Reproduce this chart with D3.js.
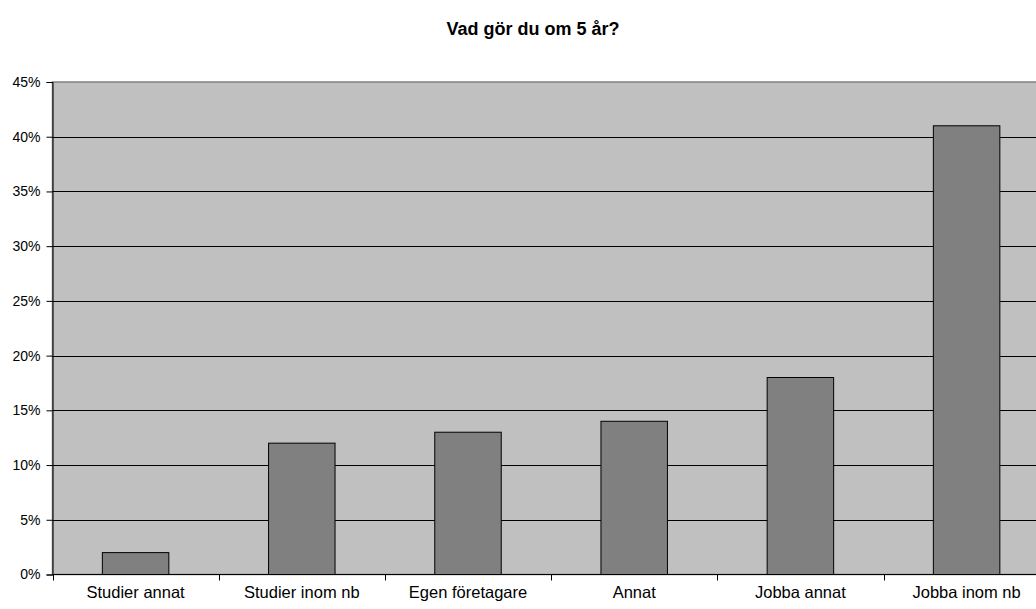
<!DOCTYPE html>
<html>
<head>
<meta charset="utf-8">
<script src="https://cdn.jsdelivr.net/npm/d3@7"></script>
<style>
  html, body { margin: 0; padding: 0; background: #fff; }
  svg { display: block; font-family: Arial, "Liberation Sans", sans-serif; }
</style>
</head>
<body>
<svg id="chart" width="1036" height="609"></svg>
<script>
const title = "Vad gör du om 5 år?";
const categories = ["Studier annat", "Studier inom nb", "Egen företagare", "Annat", "Jobba annat", "Jobba inom nb"];
const values = [2, 12, 13, 14, 18, 41];
const yTicks = [0, 5, 10, 15, 20, 25, 30, 35, 40, 45];

const svg = d3.select("#chart");
const pLeft = 52.5, pRight = 1049.7, pTop = 82, pBottom = 574.5;

const x = d3.scaleBand().domain(categories).range([pLeft, pRight]).padding(0);
const y = d3.scaleLinear().domain([0, 45]).range([pBottom, pTop]);

// plot background
svg.append("rect")
  .attr("x", pLeft).attr("y", pTop)
  .attr("width", pRight - pLeft).attr("height", pBottom - pTop)
  .attr("fill", "#c0c0c0")
  .attr("stroke", "#808080").attr("stroke-width", 1.5);

// gridlines
svg.append("g").selectAll("line")
  .data(yTicks.filter(d => d > 0 && d < 45))
  .join("line")
  .attr("x1", pLeft).attr("x2", pRight)
  .attr("y1", d => Math.round(y(d)) + 0.5).attr("y2", d => Math.round(y(d)) + 0.5)
  .attr("stroke", "#000").attr("stroke-width", 1);

// bars
const bw = x.bandwidth() * 0.4;
svg.append("g").selectAll("rect")
  .data(values)
  .join("rect")
  .attr("x", (d, i) => x(categories[i]) + (x.bandwidth() - bw) / 2)
  .attr("y", d => y(d))
  .attr("width", bw)
  .attr("height", d => y(0) - y(d))
  .attr("fill", "#808080")
  .attr("stroke", "#000").attr("stroke-width", 1);

// y axis
const yAxis = d3.axisLeft(y).tickValues(yTicks).tickFormat(d => d + "%").tickSize(6).tickPadding(6);
const gy = svg.append("g").attr("transform", `translate(${pLeft},0)`).call(yAxis);
gy.select(".domain").attr("stroke", "#000");
gy.selectAll(".tick line").attr("stroke", "#000");
gy.selectAll("text").attr("font-size", "14px").attr("fill", "#000")
  .attr("font-family", "Arial, 'Liberation Sans', sans-serif");

// x axis line
svg.append("line")
  .attr("x1", pLeft).attr("x2", pRight)
  .attr("y1", pBottom).attr("y2", pBottom)
  .attr("stroke", "#000").attr("stroke-width", 1);

// category boundary ticks
const boundaries = categories.map(c => x(c)).concat([pRight]);
svg.append("g").selectAll("line")
  .data(boundaries)
  .join("line")
  .attr("x1", d => Math.round(d) + 0.5).attr("x2", d => Math.round(d) + 0.5)
  .attr("y1", pBottom).attr("y2", pBottom + 6)
  .attr("stroke", "#000");

// category labels
svg.append("g").selectAll("text")
  .data(categories)
  .join("text")
  .attr("x", d => x(d) + x.bandwidth() / 2)
  .attr("y", 598)
  .attr("text-anchor", "middle")
  .attr("font-size", "16.5px")
  .attr("fill", "#000")
  .text(d => d);

// title
svg.append("text")
  .attr("x", 533).attr("y", 35)
  .attr("text-anchor", "middle")
  .attr("font-size", "18px")
  .attr("font-weight", "bold")
  .attr("fill", "#000")
  .text(title);
</script>
</body>
</html>
